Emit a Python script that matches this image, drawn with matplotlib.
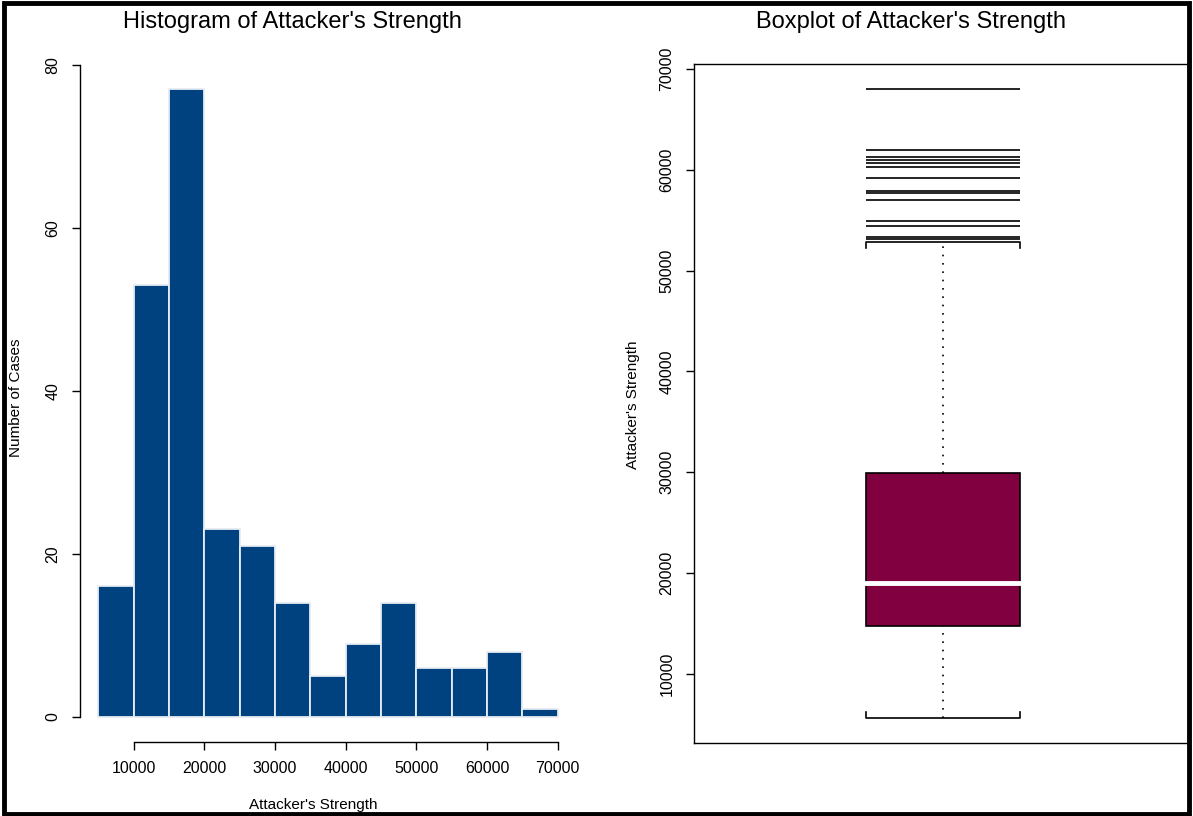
import matplotlib
matplotlib.use("Agg")
import matplotlib.pyplot as plt
from matplotlib.patches import Rectangle

plt.rcParams['font.family'] = ['Liberation Sans', 'DejaVu Sans']

# histogram bins (width 5000) and counts
bin_edges = [5000, 10000, 15000, 20000, 25000, 30000, 35000, 40000,
             45000, 50000, 55000, 60000, 65000, 70000]
counts = [16, 53, 77, 23, 21, 14, 5, 9, 14, 6, 6, 8, 1]
hist_xticks = [10000, 20000, 30000, 40000, 50000, 60000, 70000]
hist_yticks = [0, 20, 40, 60, 80]

# boxplot summary
whisker_low = 5600
q1 = 14700
median = 19000
q3 = 29950
whisker_high = 52800
outliers = [53100, 53300, 54400, 54900, 57000, 57700, 57900, 59200,
            60300, 60700, 61000, 61300, 62000, 68000]
box_yticks = [10000, 20000, 30000, 40000, 50000, 60000, 70000]

W, H = 1193, 816
fig = plt.figure(figsize=(W / 100, H / 100), dpi=100)
fig.patches.append(Rectangle((0.003, 0.002), 0.994, 0.994, transform=fig.transFigure,
                             fill=False, edgecolor='black', linewidth=3.5))

def frac(x0, y0, x1, y1):
    return [x0 / W, 1 - y1 / H, (x1 - x0) / W, (y1 - y0) / H]

# ---- histogram ----
ax1 = fig.add_axes(frac(80, 64, 576, 742))
widths = [bin_edges[i + 1] - bin_edges[i] for i in range(len(counts))]
ax1.bar(bin_edges[:-1], counts, width=widths, align='edge',
        color='#00427F', edgecolor='#E6ECF3', linewidth=1.3)
ax1.set_xlim(2400, 72600)
ax1.set_ylim(-3.08, 80.08)
for s in ['top', 'right']:
    ax1.spines[s].set_visible(False)
ax1.spines['left'].set_bounds(0, 80)
ax1.spines['bottom'].set_bounds(10000, 70000)
ax1.set_xticks(hist_xticks)
ax1.set_yticks(hist_yticks)
ax1.set_yticklabels([str(v) for v in hist_yticks], rotation=90, va='center')
ax1.tick_params(direction='out', length=6, width=1, labelsize=11.5, pad=8)
for s in ['left', 'bottom']:
    ax1.spines[s].set_linewidth(1)
fig.text(292 / W, 1 - 22 / H, "Histogram of Attacker's Strength", ha='center', va='center', fontsize=17)
fig.text(313 / W, 1 - 805 / H, "Attacker's Strength", ha='center', va='center', fontsize=11)
fig.text(16 / W, 1 - 398 / H, "Number of Cases", ha='center', va='center', rotation=90, fontsize=11)

# ---- boxplot ----
ax2 = fig.add_axes(frac(694, 64, 1188, 743))
pos, bw = 1.004, 0.312
left, right = pos - bw / 2, pos + bw / 2
ax2.add_patch(Rectangle((left, q1), bw, q3 - q1, facecolor='#800040', edgecolor='black', linewidth=1.2, zorder=2))
ax2.plot([left, right], [median, median], color='white', linewidth=3.5, zorder=3)
ax2.plot([pos, pos], [whisker_low, q1], color='black', linestyle=(0, (1, 4)), linewidth=1.2)
ax2.plot([pos, pos], [q3, whisker_high], color='black', linestyle=(0, (1, 4)), linewidth=1.2)
ax2.plot([left, left, right, right], [whisker_low + 600, whisker_low, whisker_low, whisker_low + 600],
         color='black', linewidth=1.2)
ax2.plot([left, left, right, right], [whisker_high - 600, whisker_high, whisker_high, whisker_high - 600],
         color='black', linewidth=1.2)
ax2.hlines(outliers, left, right, color='black', linewidth=1.2)
rng = 68000 - whisker_low
ax2.set_xlim(0.5, 1.5)
ax2.set_ylim(whisker_low - 0.04 * rng, 68000 + 0.04 * rng)
ax2.set_xticks([])
ax2.set_yticks(box_yticks)
ax2.set_yticklabels([str(v) for v in box_yticks], rotation=90, va='center')
ax2.tick_params(direction='out', length=6, width=1, labelsize=11.5, pad=8)
for s in ax2.spines.values():
    s.set_linewidth(1)
fig.text(911 / W, 1 - 22 / H, "Boxplot of Attacker's Strength", ha='center', va='center', fontsize=17)
fig.text(633 / W, 1 - 405 / H, "Attacker's Strength", ha='center', va='center', rotation=90, fontsize=11)

fig.savefig('out.png', dpi=100)
